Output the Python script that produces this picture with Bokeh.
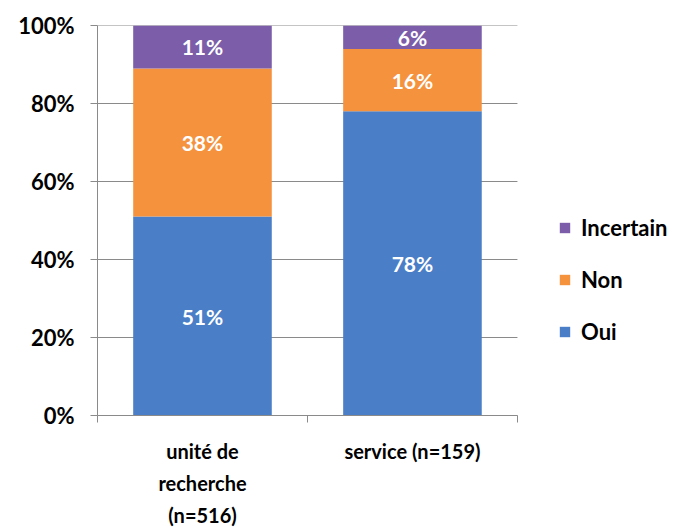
from bokeh.plotting import figure
from bokeh.models import (Range1d, LinearAxis, FixedTicker,
                          PrintfTickFormatter, Legend, LegendItem, ColumnDataSource, LabelSet)
from bokeh.core.properties import value
from bokeh.embed import file_html
from bokeh.resources import INLINE

categories = ["unité de\nrecherche\n(n=516)", "service (n=159)"]
series = ["Oui", "Non", "Incertain"]
oui = [51, 78]
non = [38, 16]
incertain = [11, 6]
colors = ["#4A7EC7", "#F5923E", "#7B5DA9"]
y_ticks = [0, 20, 40, 60, 80, 100]

FONT = "Lato"
GRID = "#8a8a8a"

n = len(categories)
xpos = [i + 0.5 for i in range(n)]
data = dict(x=xpos, Oui=oui, Non=non, Incertain=incertain)
src = ColumnDataSource(data)

p = figure(frame_width=577, frame_height=390, x_range=Range1d(0, n * 1.374),
           y_range=Range1d(0, 100), output_backend="svg", toolbar_location=None,
           x_axis_location=None, y_axis_location=None,
           min_border_left=97, min_border_right=0, min_border_top=25, min_border_bottom=0)
p.outline_line_color = None
p.background_fill_color = "white"
p.xgrid.grid_line_color = None
p.ygrid.grid_line_color = None

# horizontal gridlines only across the category area
p.segment(x0=[0] * len(y_ticks), x1=[n] * len(y_ticks), y0=y_ticks, y1=y_ticks,
          line_color=GRID, line_width=1)

renderers = p.vbar_stack(series, x="x", width=0.66, color=colors, source=src, line_color=None)

# y axis
yax = LinearAxis(ticker=FixedTicker(ticks=y_ticks), formatter=PrintfTickFormatter(format="%d%%"))
yax.axis_line_color = GRID
yax.major_tick_line_color = GRID
yax.major_tick_out = 7
yax.major_tick_in = 0
yax.minor_tick_line_color = None
yax.major_label_text_font = FONT
yax.major_label_text_font_style = "bold"
yax.major_label_text_font_size = "22px"
yax.major_label_text_color = "black"
yax.major_label_standoff = 16
p.add_layout(yax, "left")

# x axis: labels at category centres, tick marks at category edges
xax = LinearAxis(ticker=FixedTicker(ticks=xpos, minor_ticks=list(range(n + 1))), bounds=(0, n),
                 major_label_overrides={x: c for x, c in zip(xpos, categories)})
xax.axis_line_color = GRID
xax.major_tick_line_color = None
xax.major_tick_out = 0
xax.major_tick_in = 0
xax.minor_tick_line_color = GRID
xax.minor_tick_out = 7
xax.minor_tick_in = 0
xax.major_label_text_font = FONT
xax.major_label_text_font_style = "bold"
xax.major_label_text_font_size = "20px"
xax.major_label_text_line_height = 1.35
xax.major_label_text_color = "black"
xax.major_label_standoff = 16
p.add_layout(xax, "below")

# labels
lab_x, lab_y, lab_t = [], [], []
for i, xx in enumerate(xpos):
    base = 0
    for s in series:
        v = data[s][i]
        lab_x.append(xx)
        lab_y.append(base + v / 2)
        lab_t.append(f"{v}%")
        base += v
lsrc = ColumnDataSource(dict(x=lab_x, y=lab_y, t=lab_t))
p.add_layout(LabelSet(x="x", y="y", text="t", source=lsrc, text_align="center",
                      text_baseline="middle", text_color="white", text_font=value(FONT),
                      text_font_style="bold", text_font_size="21px"))

legend = Legend(items=[LegendItem(label=s, renderers=[r]) for s, r in reversed(list(zip(series, renderers)))],
                location=(461, 70))
legend.border_line_color = None
legend.background_fill_alpha = 0
legend.label_text_font = FONT
legend.label_text_font_style = "bold"
legend.label_text_font_size = "22px"
legend.label_text_color = "black"
legend.glyph_width = 13
legend.glyph_height = 13
legend.spacing = 25
legend.label_standoff = 10
legend.margin = 0
legend.padding = 0
p.add_layout(legend)

open("out.html", "w").write(file_html(p, INLINE))
